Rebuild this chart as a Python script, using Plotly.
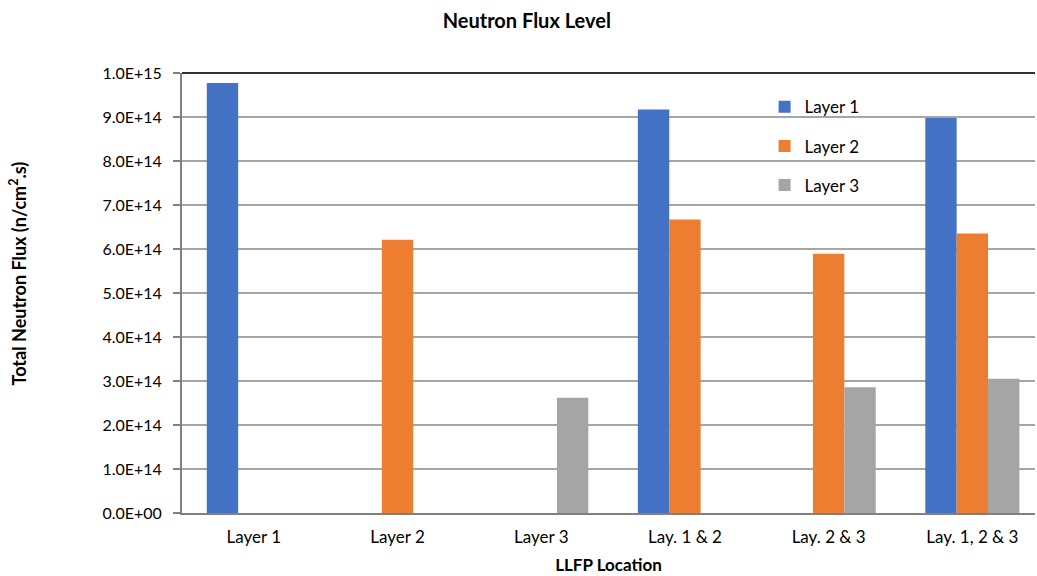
import plotly.graph_objects as go

categories = ["Layer 1", "Layer 2", "Layer 3", "Lay. 1 & 2", "Lay. 2 & 3", "Lay. 1, 2 & 3"]
layer1 = [9.77e14, None, None, 9.17e14, None, 8.98e14]
layer2 = [None, 6.21e14, None, 6.67e14, 5.89e14, 6.35e14]
layer3 = [None, None, 2.62e14, None, 2.86e14, 3.05e14]
series_names = ["Layer 1", "Layer 2", "Layer 3"]
colors = ["#4472C4", "#ED7D31", "#A5A5A5"]
tick_vals = [0, 1e14, 2e14, 3e14, 4e14, 5e14, 6e14, 7e14, 8e14, 9e14, 1e15]
tick_text = ["0.0E+00", "1.0E+14", "2.0E+14", "3.0E+14", "4.0E+14", "5.0E+14",
             "6.0E+14", "7.0E+14", "8.0E+14", "9.0E+14", "1.0E+15"]

FONT = "Lato"

fig = go.Figure()
for name, vals, col in zip(series_names, [layer1, layer2, layer3], colors):
    fig.add_trace(go.Bar(x=categories, y=vals, name=name, marker_color=col,
                         marker_line_width=0, legendgroup=name))

fig.update_layout(
    width=1037, height=576,
    margin=dict(l=182, r=2, t=73, b=63),
    paper_bgcolor="white", plot_bgcolor="white",
    barmode="group", bargap=0.345, bargroupgap=0,
    font=dict(family=FONT, size=16, color="#000000"),
    title=dict(text="<b>Neutron Flux Level</b>", x=0.508, xanchor="center",
               y=0.963, yanchor="middle", font=dict(family=FONT, size=20, color="#000000")),
    legend=dict(x=0.683, y=0.963, xanchor="left", yanchor="top",
                bgcolor="rgba(0,0,0,0)", font=dict(family=FONT, size=17),
                tracegroupgap=14, itemwidth=30),
    showlegend=True,
)
fig.update_xaxes(range=[-0.5, 5.436], showline=True, linecolor="#808080", linewidth=2, ticks="",
                 tickfont=dict(family=FONT, size=17), showgrid=False, ticklabelstandoff=8,
                 title=dict(text="<b>LLFP Location</b>", font=dict(family=FONT, size=17), standoff=13))
fig.update_yaxes(range=[0, 1e15], tickvals=tick_vals, ticktext=tick_text,
                 showgrid=True, gridcolor="#A6A6A6", gridwidth=1.5,
                 showline=True, linecolor="#808080", linewidth=2,
                 ticks="outside", ticklen=7, tickcolor="#808080", tickwidth=1.5,
                 ticklabelstandoff=8,
                 tickfont=dict(family=FONT, size=16), zeroline=False)
fig.add_shape(type="line", xref="paper", yref="paper", x0=0, x1=1, y0=1, y1=1,
              line=dict(color="#303030", width=2))
fig.add_annotation(text="<b>Total Neutron Flux (n/cm<sup>2</sup>.s)</b>",
                   xref="paper", yref="paper", x=-0.192, y=0.545, textangle=-90,
                   showarrow=False, xanchor="center", yanchor="middle",
                   font=dict(family=FONT, size=18))

fig.write_html("out.html", config={"displayModeBar": False},
               post_script="document.body.style.margin='0px';")
